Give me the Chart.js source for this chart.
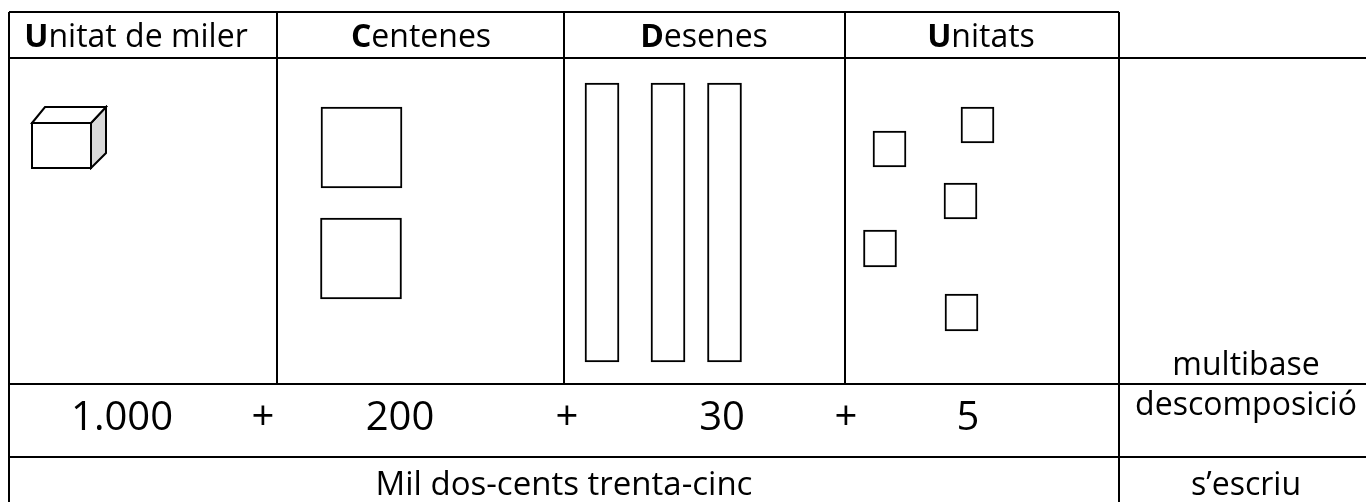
<!DOCTYPE html>
<html>
<head>
<meta charset="utf-8">
<title>Unitat de miler, centenes, desenes i unitats</title>
<script src="https://cdn.jsdelivr.net/npm/chart.js@4.4.1/dist/chart.umd.min.js"></script>
<style>
    html, body { margin: 0; padding: 0; background: #ffffff; }
    #wrap { position: relative; width: 1366px; height: 502px; }
</style>
</head>
<body>
<div id="wrap"><canvas id="myBaseChart"></canvas></div>
<script>
// Data: number 1235 split into place values
var places = ['Unitat de miler', 'Centenes', 'Desenes', 'Unitats'];
var placeValues = [1000, 100, 10, 1];
var counts = [1, 2, 3, 5];
var rowLabels = ['multibase', 'descomposició', 's\u2019escriu'];
var numberInWords = 'Mil dos-cents trenta-cinc';

// Layout of the table (pixel space of the hidden linear scales)
var colEdges = [9, 277, 564, 845, 1119, 1366];
var rowEdges = [12, 58, 384, 457, 502];
var headerCenters = [136, 421, 704, 981];
var valueCenters = [122, 400, 722, 968];
var plusCenters = [263, 567, 846];

// Where each block sits inside its column
var cubeSpot = [{ x: 69, y: 137.5 }];
var hundredSpots = [{ x: 361.5, top: 107, bottom: 188 }, { x: 361, top: 218, bottom: 299 }];
var tenSpots = [{ x: 602, top: 83, bottom: 362 }, { x: 668, top: 83, bottom: 362 }, { x: 724.5, top: 83, bottom: 362 }];
var unitSpots = [
    { x: 889.5, top: 131, bottom: 167 },
    { x: 977.5, top: 107, bottom: 143 },
    { x: 960.5, top: 183, bottom: 219 },
    { x: 880, top: 230, bottom: 267 },
    { x: 961.5, top: 294, bottom: 331 }
];

var FONT = '"Open Sans", Lato, sans-serif';

// Format with a dot as thousands separator (Catalan style)
function formatValue(n) {
    return String(n).replace(/\B(?=(\d{3})+(?!\d))/g, '.');
}

// Draw the little thousand cube once, use it as a point style
function makeCube() {
    var c = document.createElement('canvas');
    c.width = 78;
    c.height = 65;
    var g = c.getContext('2d');
    g.lineWidth = 2;
    g.strokeStyle = '#000';
    g.lineJoin = 'miter';
    // right face
    g.beginPath();
    g.moveTo(61, 18); g.lineTo(76, 2); g.lineTo(76, 48); g.lineTo(61, 63); g.closePath();
    g.fillStyle = '#d9d9d9';
    g.fill(); g.stroke();
    // top face
    g.beginPath();
    g.moveTo(2, 18); g.lineTo(15, 2); g.lineTo(76, 2); g.lineTo(61, 18); g.closePath();
    g.fillStyle = '#fff';
    g.fill(); g.stroke();
    // front face
    g.beginPath();
    g.rect(2, 18, 59, 45);
    g.fill(); g.stroke();
    return c;
}

function blockData(spots, n) {
    return spots.slice(0, n).map(function (s) {
        return { x: s.x, y: [s.top, s.bottom] };
    });
}

// Table lines and texts, drawn through the hidden scales
var tablePlugin = {
    id: 'tablePlugin',
    beforeDatasetsDraw: function (chart) {
        var ctx = chart.ctx;
        var sx = chart.scales.x, sy = chart.scales.y;
        function X(v) { return sx.getPixelForValue(v); }
        function Y(v) { return sy.getPixelForValue(v); }
        function line(x1, y1, x2, y2) {
            ctx.beginPath();
            ctx.moveTo(X(x1), Y(y1));
            ctx.lineTo(X(x2), Y(y2));
            ctx.stroke();
        }
        ctx.save();
        ctx.strokeStyle = '#000';
        ctx.lineWidth = 2;
        var left = colEdges[0], right = colEdges[5], last = colEdges[4];
        line(left, rowEdges[0], last, rowEdges[0]);
        line(left, rowEdges[1], right, rowEdges[1]);
        line(left, rowEdges[2], right, rowEdges[2]);
        line(left, rowEdges[3], right, rowEdges[3]);
        line(left, rowEdges[0], left, rowEdges[4]);
        for (var i = 1; i < 4; i++) line(colEdges[i], rowEdges[0], colEdges[i], rowEdges[2]);
        line(last, rowEdges[0], last, rowEdges[4]);

        ctx.fillStyle = '#000';
        ctx.textBaseline = 'alphabetic';
        // header: first letter bold
        places.forEach(function (p, i) {
            ctx.font = 'bold 32px ' + FONT;
            var w1 = ctx.measureText(p[0]).width;
            ctx.font = '32px ' + FONT;
            var w2 = ctx.measureText(p.slice(1)).width;
            var x0 = X(headerCenters[i]) - (w1 + w2) / 2;
            ctx.textAlign = 'left';
            ctx.font = 'bold 32px ' + FONT;
            ctx.fillText(p[0], x0, Y(47));
            ctx.font = '32px ' + FONT;
            ctx.fillText(p.slice(1), x0 + w1, Y(47));
        });
        // decomposition row
        ctx.textAlign = 'center';
        ctx.font = '40px ' + FONT;
        counts.forEach(function (c, i) {
            ctx.fillText(formatValue(c * placeValues[i]), X(valueCenters[i]), Y(430));
        });
        plusCenters.forEach(function (px) {
            ctx.fillText('+', X(px), Y(430));
        });
        // written form and row labels
        ctx.font = '33px ' + FONT;
        ctx.fillText(numberInWords, X((colEdges[0] + colEdges[4]) / 2), Y(495));
        ctx.font = '32px ' + FONT;
        var lx = X(1246);
        ctx.fillText(rowLabels[0], lx, Y(375));
        ctx.fillText(rowLabels[1], lx, Y(415));
        ctx.fillText(rowLabels[2], lx, Y(495));
        ctx.restore();
    }
};

function createBaseChart() {
    var ctx = document.getElementById('myBaseChart').getContext('2d');
    var blockStyle = {
        type: 'bar',
        backgroundColor: '#ffffff',
        borderColor: '#000000',
        borderWidth: 2,
        borderSkipped: false,
        grouped: false
    };
    window.myBaseChart = new Chart(ctx, {
        type: 'bar',
        data: {
            datasets: [
                Object.assign({}, blockStyle, { label: places[1], data: blockData(hundredSpots, counts[1]), barThickness: 81 }),
                Object.assign({}, blockStyle, { label: places[2], data: blockData(tenSpots, counts[2]), barThickness: 34 }),
                Object.assign({}, blockStyle, { label: places[3], data: blockData(unitSpots, counts[3]), barThickness: 33 }),
                {
                    type: 'scatter',
                    label: places[0],
                    data: cubeSpot.slice(0, counts[0]),
                    pointStyle: makeCube(),
                    pointRadius: 10
                }
            ]
        },
        options: {
            responsive: true,
            maintainAspectRatio: false,
            animation: false,
            events: [],
            layout: { padding: 0, autoPadding: false },
            scales: {
                x: { type: 'linear', min: 0, max: 1366, offset: false, display: false },
                y: { type: 'linear', min: 0, max: 502, reverse: true, display: false }
            },
            plugins: {
                legend: { display: false },
                tooltip: { enabled: false }
            }
        },
        plugins: [tablePlugin]
    });
}

createBaseChart();
</script>
</body>
</html>
